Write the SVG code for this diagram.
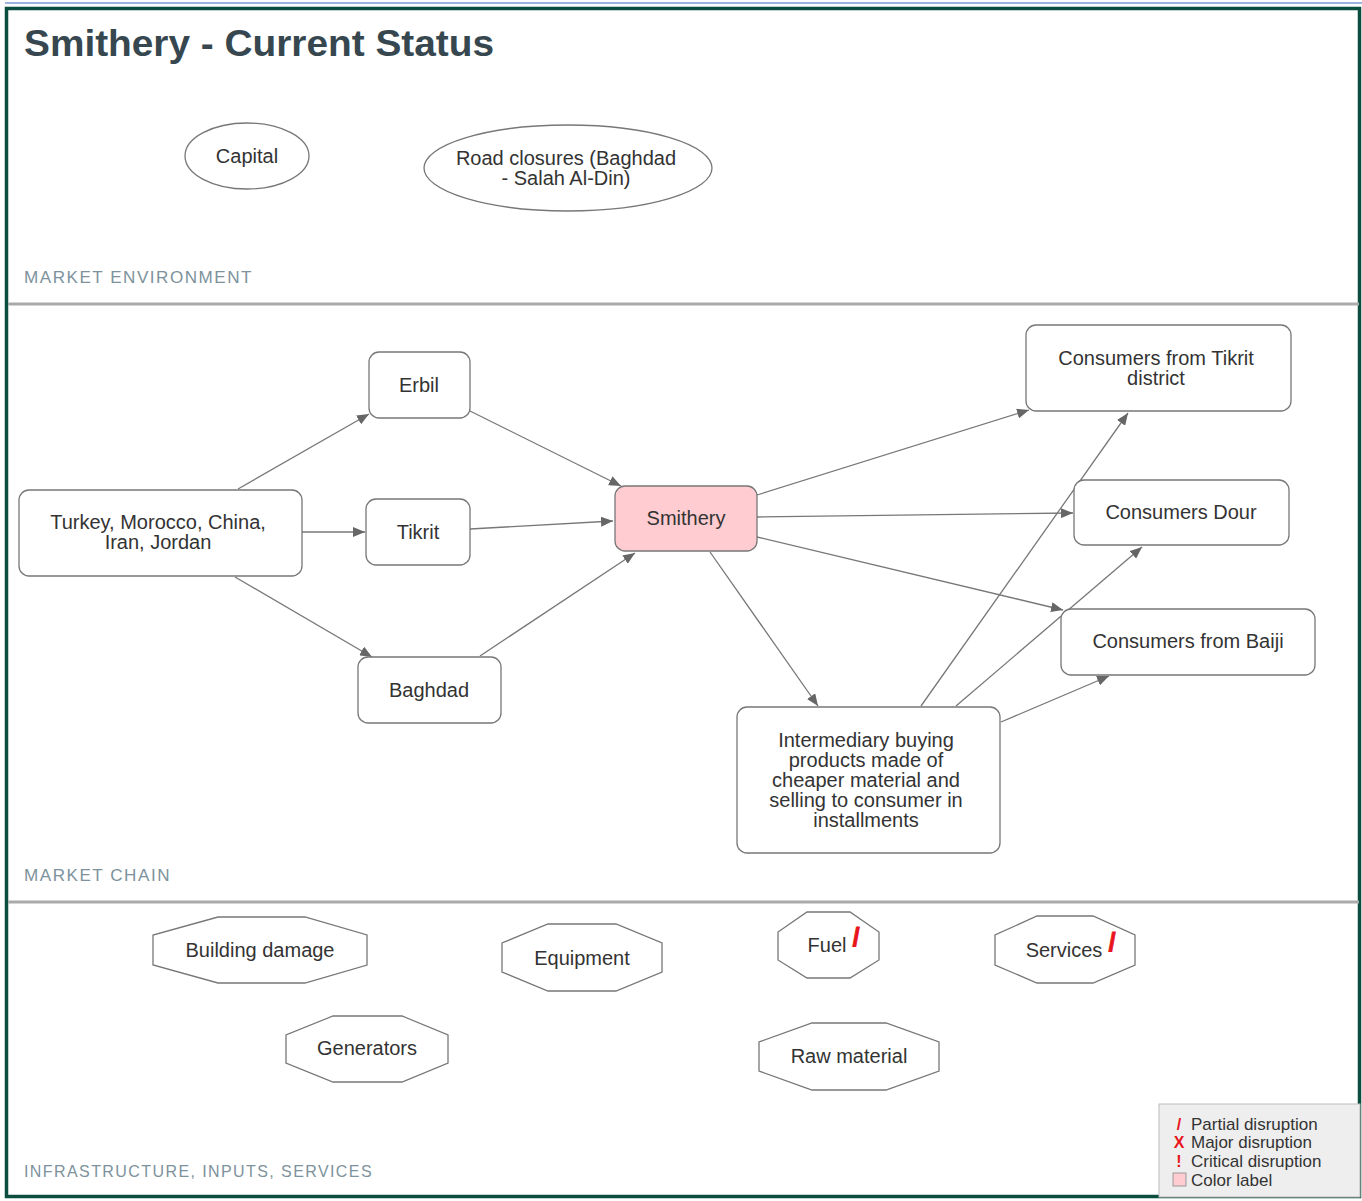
<svg xmlns="http://www.w3.org/2000/svg" width="1362" height="1201" viewBox="0 0 1362 1201">
<defs>
<marker id="arr" viewBox="0 0 12 10" refX="12" refY="5" markerWidth="12" markerHeight="10" markerUnits="userSpaceOnUse" orient="auto">
<path d="M0,0 L12,5 L0,10 z" fill="#666"/>
</marker>
</defs>
<style>
.node{fill:#fff;stroke:#777;stroke-width:1.3}
.t{font-family:"Liberation Sans",Arial,sans-serif;font-size:20px;fill:#333;text-anchor:middle}
.sec{font-family:"Liberation Sans",Arial,sans-serif;font-size:17px;fill:#7d929c;letter-spacing:1.5px}
.c{fill:none;stroke:#777;stroke-width:1.3;marker-end:url(#arr)}
.lg{font-family:"Liberation Sans",Arial,sans-serif;font-size:17px;fill:#333}
.red{font-family:"Liberation Sans",Arial,sans-serif;font-weight:bold;fill:#e8141b}
</style>
<rect x="0" y="0" width="1362" height="1201" fill="#fff"/>
<line x1="5" y1="3" x2="1362" y2="3" stroke="#7d9bd6" stroke-width="1.5"/>
<rect x="6.5" y="8.5" width="1353" height="1188" fill="none" stroke="#0b4d3f" stroke-width="3.5"/>
<line x1="8" y1="304" x2="1359" y2="304" stroke="#aaa" stroke-width="3"/>
<line x1="8" y1="902" x2="1359" y2="902" stroke="#aaa" stroke-width="3"/>
<text x="24" y="56" font-family="'Liberation Sans',Arial,sans-serif" font-weight="bold" font-size="36" fill="#37474f" textLength="470" lengthAdjust="spacingAndGlyphs">Smithery - Current Status</text>
<text class="sec" x="24" y="283" textLength="229" lengthAdjust="spacingAndGlyphs">MARKET ENVIRONMENT</text>
<text class="sec" x="24" y="881" textLength="147" lengthAdjust="spacingAndGlyphs">MARKET CHAIN</text>
<text class="sec" x="24" y="1177" textLength="349" lengthAdjust="spacingAndGlyphs">INFRASTRUCTURE, INPUTS, SERVICES</text>

<g id="connectors">
<line class="c" x1="238" y1="489" x2="369" y2="414"/>
<line class="c" x1="302" y1="532" x2="365" y2="532"/>
<line class="c" x1="235" y1="577" x2="372" y2="657"/>
<line class="c" x1="470" y1="411" x2="621" y2="486"/>
<line class="c" x1="470" y1="529" x2="613" y2="521"/>
<line class="c" x1="480" y1="656" x2="635" y2="553"/>
<line class="c" x1="757" y1="495" x2="1029" y2="410"/>
<line class="c" x1="757" y1="517" x2="1073" y2="513"/>
<line class="c" x1="757" y1="537" x2="1063" y2="610"/>
<line class="c" x1="710" y1="552" x2="818" y2="706"/>
<line class="c" x1="921" y1="706" x2="1128" y2="413"/>
<line class="c" x1="956" y1="706" x2="1142" y2="547"/>
<line class="c" x1="1001" y1="722" x2="1109" y2="676"/>
</g>

<g id="capital"><ellipse class="node" cx="247" cy="156" rx="62" ry="33"/><text class="t" x="247" y="163">Capital</text></g>
<g id="road"><ellipse class="node" cx="568" cy="168" rx="144" ry="43"/><text class="t" x="566" y="165">Road closures (Baghdad</text><text class="t" x="566" y="185">- Salah Al-Din)</text></g>

<g id="turkey"><rect class="node" x="19" y="490" width="283" height="86" rx="10"/><text class="t" x="158" y="529">Turkey, Morocco, China,</text><text class="t" x="158" y="549">Iran, Jordan</text></g>
<g id="erbil"><rect class="node" x="369" y="352" width="101" height="66" rx="10"/><text class="t" x="419" y="392">Erbil</text></g>
<g id="tikrit"><rect class="node" x="366" y="499" width="104" height="66" rx="10"/><text class="t" x="418" y="539">Tikrit</text></g>
<g id="baghdad"><rect class="node" x="358" y="657" width="143" height="66" rx="10"/><text class="t" x="429" y="697">Baghdad</text></g>
<g id="smithery"><rect class="node" x="615" y="486" width="142" height="65" rx="10" style="fill:#ffccd1"/><text class="t" x="686" y="525">Smithery</text></g>
<g id="cons-tikrit"><rect class="node" x="1026" y="325" width="265" height="86" rx="10"/><text class="t" x="1156" y="365">Consumers from Tikrit</text><text class="t" x="1156" y="385">district</text></g>
<g id="cons-dour"><rect class="node" x="1074" y="480" width="215" height="65" rx="10"/><text class="t" x="1181" y="519">Consumers Dour</text></g>
<g id="cons-baiji"><rect class="node" x="1061" y="609" width="254" height="66" rx="10"/><text class="t" x="1188" y="648">Consumers from Baiji</text></g>
<g id="intermediary"><rect class="node" x="737" y="707" width="263" height="146" rx="10"/>
<text class="t" x="866" y="747">Intermediary buying</text>
<text class="t" x="866" y="767">products made of</text>
<text class="t" x="866" y="787">cheaper material and</text>
<text class="t" x="866" y="807">selling to consumer in</text>
<text class="t" x="866" y="827">installments</text></g>

<g id="building"><polygon class="node" points="218,917 305,917 367,935 367,965 305,983 218,983 153,965 153,935"/><text class="t" x="260" y="957">Building damage</text></g>
<g id="generators"><polygon class="node" points="333,1016 402,1016 448,1035 448,1063 402,1082 333,1082 286,1063 286,1035"/><text class="t" x="367" y="1055">Generators</text></g>
<g id="equipment"><polygon class="node" points="548,924 616,924 662,943 662,972 616,991 548,991 502,972 502,943"/><text class="t" x="582" y="965">Equipment</text></g>
<g id="fuel"><polygon class="node" points="807,912 850,912 879,932 879,960 850,978 807,978 778,960 778,932"/><text class="t" x="827" y="952">Fuel</text><text class="red" x="856" y="946" font-size="26" text-anchor="middle" stroke="#e8141b" stroke-width="0.8">/</text></g>
<g id="services"><polygon class="node" points="1037,916 1093,916 1135,935 1135,965 1093,983 1037,983 995,965 995,935"/><text class="t" x="1064" y="957">Services</text><text class="red" x="1112" y="951" font-size="26" text-anchor="middle" stroke="#e8141b" stroke-width="0.8">/</text></g>
<g id="raw"><polygon class="node" points="812,1023 886,1023 939,1042 939,1071 886,1090 812,1090 759,1071 759,1042"/><text class="t" x="849" y="1063">Raw material</text></g>

<g id="legend">
<rect x="1159" y="1104" width="201" height="93" fill="#eeeeee" stroke="#bbb" stroke-width="1"/>
<text class="red" x="1179" y="1130" font-size="16" text-anchor="middle">/</text><text class="lg" x="1191" y="1130">Partial disruption</text>
<text class="red" x="1179" y="1148" font-size="16" text-anchor="middle">X</text><text class="lg" x="1191" y="1148">Major disruption</text>
<text class="red" x="1179" y="1167" font-size="16" text-anchor="middle">!</text><text class="lg" x="1191" y="1167">Critical disruption</text>
<rect x="1173" y="1173" width="13" height="13" fill="#ffccd1" stroke="#999" stroke-width="1"/><text class="lg" x="1191" y="1186">Color label</text>
</g>
</svg>
